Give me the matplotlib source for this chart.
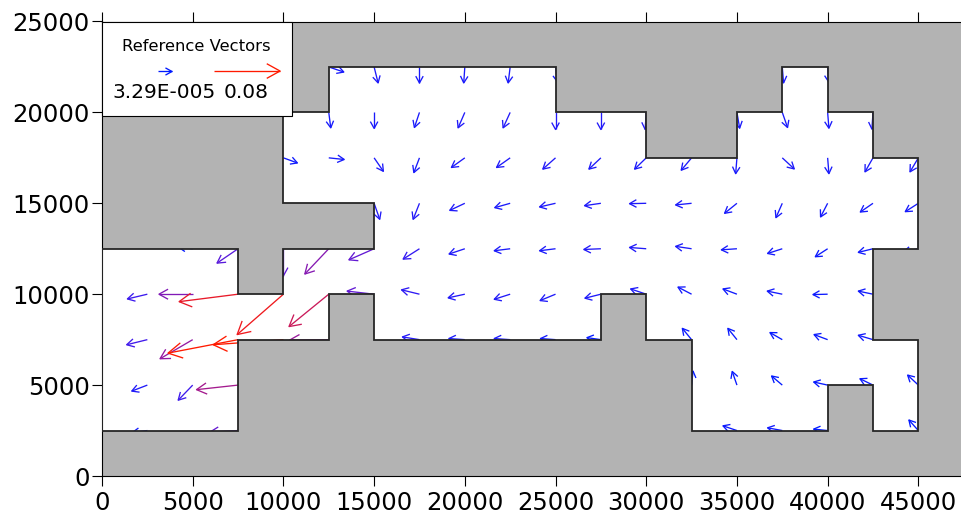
import numpy as np
import matplotlib
matplotlib.use("Agg")
import matplotlib.pyplot as plt
from matplotlib.patches import Polygon, Rectangle
from matplotlib.collections import LineCollection

# outline of the active model area (m)
domain_x = [0, 7500, 7500, 12500, 12500, 15000, 15000, 27500, 27500, 30000, 30000, 32500,
            32500, 40000, 40000, 42500, 42500, 45000, 45000, 42500, 42500, 45000, 45000, 42500,
            42500, 40000, 40000, 37500, 37500, 35000, 35000, 30000, 30000, 25000, 25000, 12500,
            12500, 10000, 10000, 15000, 15000, 10000, 10000, 7500, 7500, 0]
domain_y = [2500, 2500, 7500, 7500, 10000, 10000, 7500, 7500, 10000, 10000, 7500, 7500,
            2500, 2500, 5000, 5000, 2500, 2500, 7500, 7500, 12500, 12500, 17500, 17500,
            20000, 20000, 22500, 22500, 20000, 20000, 17500, 17500, 20000, 20000, 22500, 22500,
            20000, 20000, 15000, 15000, 12500, 12500, 10000, 10000, 12500, 12500]

# vectors at grid nodes (tail position and plotted components, m)
arrow_x = [
    12500, 15000, 17500, 20000, 22500, 25000, 37500, 40000,
    12500, 15000, 17500, 20000, 22500, 25000, 27500, 30000, 35000, 37500, 40000, 42500,
    10000, 12500, 15000, 17500, 20000, 22500, 25000, 27500, 30000, 32500, 35000, 37500, 40000, 42500, 45000,
    15000, 17500, 20000, 22500, 25000, 27500, 30000, 32500, 35000, 37500, 40000, 42500, 45000,
    5000, 7500, 10000, 12500, 15000, 17500, 20000, 22500, 25000, 27500, 30000, 32500, 35000, 37500, 40000, 42500, 45000,
    2500, 5000, 7500, 10000, 12500, 15000, 17500, 20000, 22500, 25000, 27500, 30000, 32500, 35000, 37500, 40000, 42500,
    2500, 5000, 7500, 10000, 12500, 17500, 20000, 22500, 25000, 27500, 32500, 35000, 37500, 40000, 42500,
    2500, 5000, 7500, 32500, 35000, 37500, 40000, 42500, 45000,
    2500, 7500, 35000, 37500, 40000, 45000,
]
arrow_y = ([22500] * 8 + [20000] * 12 + [17500] * 15 + [15000] * 13 + [12500] * 17
           + [10000] * 17 + [7500] * 15 + [5000] * 9 + [2500] * 6)
arrow_u = [
    830, 220, 0, -60, -110, 110, 70, 60,
    110, 0, -280, -370, -390, 0, 0, -60, 150, 290, 70, -60,
    770, 850, 510, -310, -740, -750, -700, -660, -640, -570, -70, 660, 70, -440, -460,
    310, -350, -830, -850, -880, -900, -920, -880, -680, -350, -390, -700, -720,
    -770, -1160, 0, -1320, -1390, -900, -870, -880, -880, -940, -920, -880, -860, -810, -680, -810, -830,
    -1100, -1860, -3250, -2550, -2190, -1490, -990, -920, -880, -850, -880, -860, -750, -770, -830, -810, -810,
    -1140, -1800, -3860, -3870, -2150, -940, -880, -880, -830, -770, -510, -500, -680, -750, -810,
    -860, -800, -2290, 80, -260, -590, -770, -720, -590,
    -830, -1540, -770, -810, -770, -520,
]
arrow_v = [
    -280, -880, -880, -880, -880, -830, -880, -830,
    -850, -880, -830, -850, -850, -940, -940, -940, -870, -830, -870, -920,
    -280, -90, -740, -810, -530, -530, -620, -620, -620, -680, -870, -610, -870, -770, -770,
    -880, -880, -390, -240, -200, -130, -20, -90, -550, -790, -750, -480, -460,
    80, -790, -1490, -1390, -610, -570, -290, -110, -110, -40, 70, 130, -60, -260, -440, -200, -170,
    -260, 0, -410, -2220, -1780, 170, 240, -200, -280, -350, -220, 290, 390, 290, 170, -20, 170,
    -280, -1050, -740, -280, -20, 150, 60, 60, 60, 110, 620, 620, 390, 280, 240,
    -330, -830, -250, 770, 750, 500, 170, 350, 550,
    -110, -80, 260, 150, 80, 580,
]

# reference vectors of the legend
ref_labels = ["3.29E-005", "0.08"]
ref_len = [770, 3640]

XMAX, YMAX = 47500, 25000


def arrow_lines(x, y, u, v):
    x, y, u, v = (np.asarray(a, dtype=float) for a in (x, y, u, v))
    L = np.hypot(u, v)
    ex, ey = u / L, v / L
    back = 0.13 * L + 260
    half = 0.55 * back
    tx, ty = x + u, y + v
    segs = []
    for i in range(len(x)):
        bx, by = tx[i] - back[i] * ex[i], ty[i] - back[i] * ey[i]
        w1 = (bx - half[i] * ey[i], by + half[i] * ex[i])
        w2 = (bx + half[i] * ey[i], by - half[i] * ex[i])
        segs.append([(x[i], y[i]), (tx[i], ty[i])])
        segs.append([w1, (tx[i], ty[i]), w2])
    return segs


def arrow_colors(u, v):
    L = np.hypot(u, v)
    t = np.clip((L - ref_len[0]) / (ref_len[1] - ref_len[0]), 0, 1)
    r = t ** 0.7
    b = 1 - t ** 1.3
    cols = []
    for ri, bi in zip(r, b):
        cols += [(ri, 0.1, bi)] * 2
    return cols


fig = plt.figure(figsize=(9.62, 5.16), dpi=100)
ax = fig.add_axes([102 / 962, 40 / 516, 861.7 / 962, 454.5 / 516])
ax.set_facecolor("#b3b3b3")
ax.set_xlim(0, XMAX)
ax.set_ylim(0, YMAX)

verts = np.column_stack([domain_x, domain_y])
area = Polygon(verts, closed=True, facecolor="white", edgecolor="none", zorder=1)
ax.add_patch(area)

lc = LineCollection(arrow_lines(arrow_x, arrow_y, arrow_u, arrow_v),
                    colors=arrow_colors(np.array(arrow_u, float), np.array(arrow_v, float)),
                    linewidths=0.95, zorder=2)
ax.add_collection(lc)
lc.set_clip_path(area)

ax.add_patch(Polygon(verts, closed=True, fill=False, edgecolor="#262626", linewidth=1.3, zorder=3))

# legend box
ax.add_patch(Rectangle((0.0015, 0.789), 0.2205, 0.208, transform=ax.transAxes,
                       facecolor="#8a8a8a", edgecolor="none", zorder=5, clip_on=False))
ax.add_patch(Rectangle((0, 0.792), 0.2205, 0.208, transform=ax.transAxes,
                       facecolor="white", edgecolor="black", linewidth=0.8, zorder=6, clip_on=False))
ax.text(0.110, 0.935, "Reference Vectors", transform=ax.transAxes, ha="center",
        va="baseline", fontsize=11.8, zorder=7)
ax.text(0.072, 0.831, ref_labels[0], transform=ax.transAxes, ha="center",
        va="baseline", fontsize=14.5, zorder=7)
ax.text(0.167, 0.831, ref_labels[1], transform=ax.transAxes, ha="center",
        va="baseline", fontsize=14.5, zorder=7)
ref_x = [0.065 * XMAX, 0.130 * XMAX]
ref_y = [0.890 * YMAX, 0.891 * YMAX]
ref_lc = LineCollection(arrow_lines(ref_x, ref_y, ref_len, [0, 0]),
                        colors=arrow_colors(np.array(ref_len, float), np.zeros(2)),
                        linewidths=0.95, zorder=8)
ax.add_collection(ref_lc)

ax.set_xticks(np.arange(0, 45001, 5000))
ax.set_yticks(np.arange(0, 25001, 5000))
ax.tick_params(direction="out", length=7.5, width=0.8, labelsize=17.5, top=True)
ax.tick_params(axis="y", pad=1.5)
ax.tick_params(axis="x", pad=3)
for s in ax.spines.values():
    s.set_linewidth(0.8)

fig.savefig("out.png", dpi=100)
